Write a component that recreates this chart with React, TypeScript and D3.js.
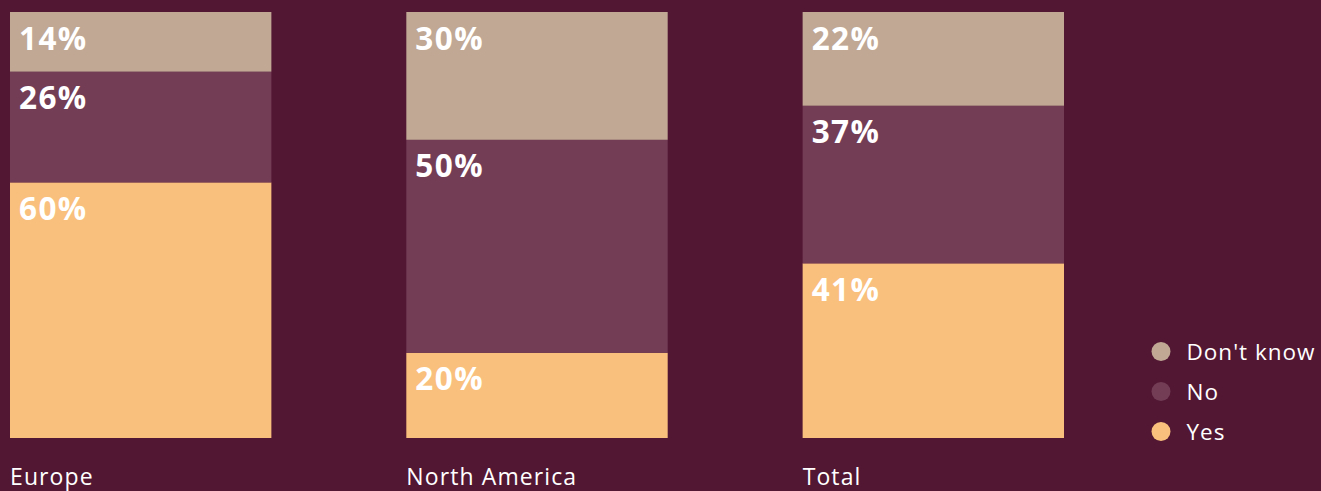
import React from "react";
import * as d3 from "d3";

const categories = ["Europe", "North America", "Total"];
const seriesNames = ["Yes", "No", "Don't know"];
const yesValues = [60, 20, 41];
const noValues = [26, 50, 37];
const dontKnowValues = [14, 30, 22];
const legendOrder = ["Don't know", "No", "Yes"];

const colors: Record<string, string> = {
  "Yes": "#f9c07d",
  "No": "#733d56",
  "Don't know": "#c0a895",
};
const BG = "#521733";

const W = 1321;
const H = 491;

export default function App() {
  React.useEffect(() => {
    document.body.style.margin = "0";
    document.body.style.background = BG;
  }, []);

  const rows = categories.map((c, i) => ({
    category: c,
    "Yes": yesValues[i],
    "No": noValues[i],
    "Don't know": dontKnowValues[i],
  }));
  const stack = d3.stack<any>().keys(seriesNames)(rows);

  const x = d3
    .scaleBand<string>()
    .domain(categories)
    .range([10, 1064])
    .paddingInner(0.3405)
    .paddingOuter(0);
  const y = d3.scaleLinear().domain([0, 100]).range([438, 12]);

  const font = "'Open Sans', 'Noto Sans', sans-serif";

  return (
    <svg width={W} height={H} style={{ display: "block", background: BG }}>
      <rect x={0} y={0} width={W} height={H} fill={BG} />
      {stack.map((s) => (
        <g key={s.key}>
          {s.map((d, i) => {
            const x0 = x(categories[i])!;
            const yTop = y(d[1]);
            const yBot = y(d[0]);
            return (
              <g key={i}>
                <rect
                  x={x0}
                  y={yTop}
                  width={x.bandwidth()}
                  height={yBot - yTop}
                  fill={colors[s.key]}
                />
                <text
                  x={x0 + 9}
                  y={yTop + 37.5}
                  fill="#ffffff"
                  fontFamily={font}
                  fontWeight={700}
                  fontSize={31.5}
                  letterSpacing={1.4}
                >
                  {`${d[1] - d[0]}%`}
                </text>
              </g>
            );
          })}
        </g>
      ))}
      {categories.map((c) => (
        <text
          key={c}
          x={x(c)!}
          y={485}
          fill="#ffffff"
          fontFamily={font}
          fontSize={23}
          letterSpacing={1.1}
        >
          {c}
        </text>
      ))}
      {legendOrder.map((k, i) => (
        <g key={k} transform={`translate(1161, ${351.5 + i * 40})`}>
          <circle r={9.5} fill={colors[k]} />
          <text
            x={25.5}
            y={8}
            fill="#ffffff"
            fontFamily={font}
            fontSize={22.5}
            letterSpacing={1.0}
          >
            {k}
          </text>
        </g>
      ))}
    </svg>
  );
}
